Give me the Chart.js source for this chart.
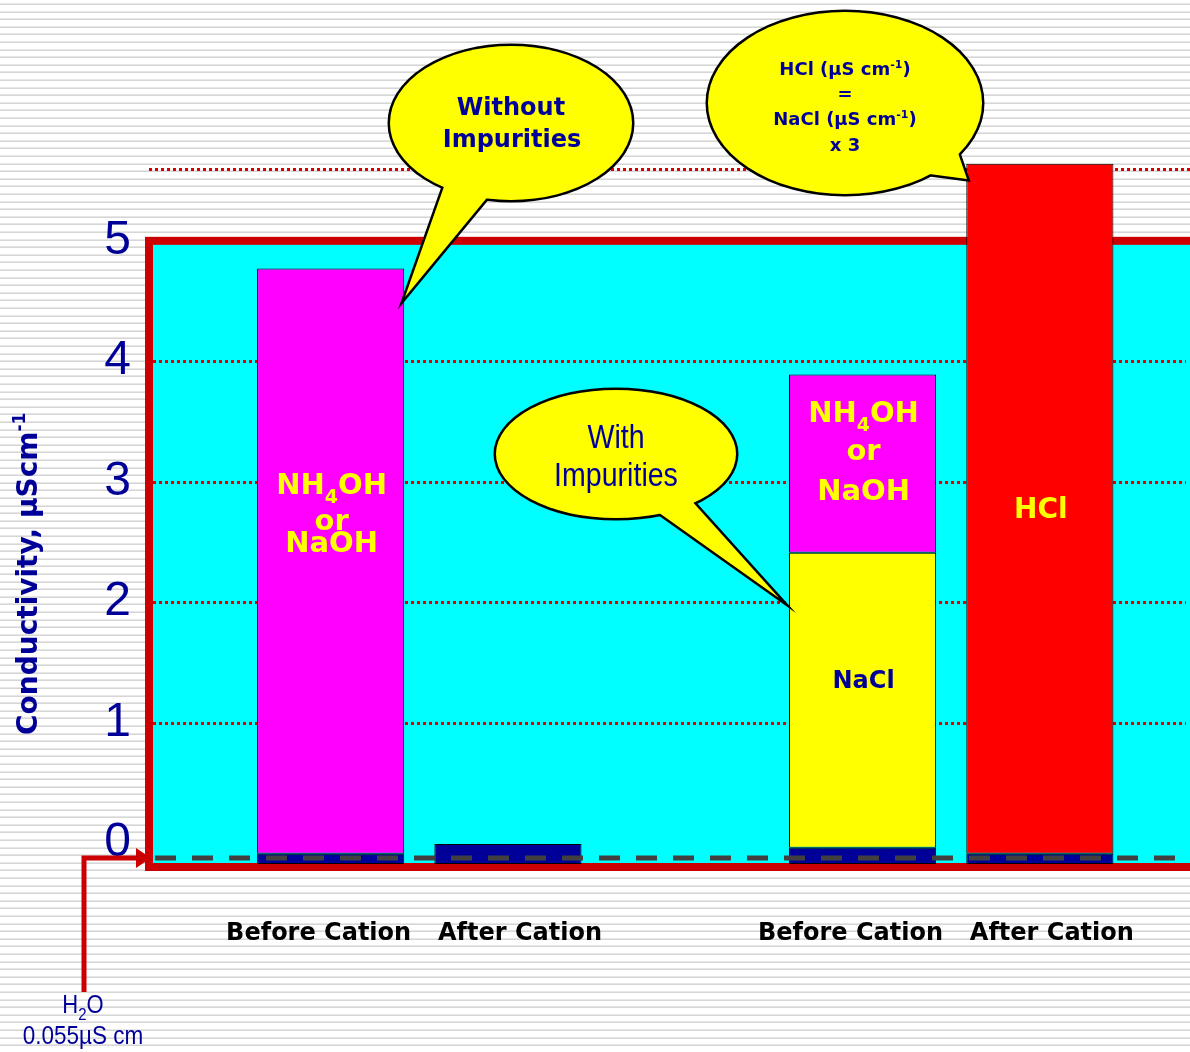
<!DOCTYPE html>
<html>
<head>
<meta charset="utf-8">
<script src="https://cdn.jsdelivr.net/npm/chart.js@4.4.0/dist/chart.umd.min.js"></script>
<style>
html,body{margin:0;padding:0;background:#fff;}
#wrap{width:1190px;height:1052px;position:relative;}
</style>
</head>
<body>
<div id="wrap"><canvas id="c" width="1190" height="1052"></canvas></div>
<script>
// ---- data ----
const categories = ["Before Cation", "After Cation", "", "Before Cation", "After Cation"];
const waterTop  = [-0.09, -0.01, null, -0.04, -0.09];   // dark blue base (water)
const naclTop   = [null, null, null, 2.41, null];        // NaCl
const alkaliTop = [4.77, null, null, 3.89, null];        // NH4OH or NaOH
const hclTop    = [null, null, null, null, 5.64];        // HCl
const barBottom = -0.175;
const tickValues = [0, 1, 2, 3, 4, 5];
const tickLabels = ["0", "1", "2", "3", "4", "5"];
const gridValues = [1, 2, 3, 4];
const refLine = 5.6;
const waterLevel = -0.125;
const yMin = -0.2, yMax = 7;

const NAVY = '#000099';
const BOLD = "'DejaVu Sans', sans-serif";
const ARIAL = "'Liberation Sans', Arial, sans-serif";

const navyData   = waterTop.map(v => v == null ? null : [barBottom, v]);
const naclData   = naclTop.map((v, i) => v == null ? null : [waterTop[i], v]);
const alkaliData = alkaliTop.map((v, i) => v == null ? null : [naclTop[i] != null ? naclTop[i] : waterTop[i], v]);
const hclData    = hclTop.map((v, i) => v == null ? null : [waterTop[i], v]);

function drawRuns(ctx, runs, x0, baseline, align, sx) {
  sx = sx || 1;
  let total = 0;
  runs.forEach(r => { ctx.font = r.font; r.w = ctx.measureText(r.t).width; total += r.w; });
  ctx.save();
  ctx.translate(x0, baseline);
  ctx.scale(sx, 1);
  let x = align === 'left' ? 0 : -total / 2;
  ctx.textAlign = 'left';
  ctx.textBaseline = 'alphabetic';
  runs.forEach(r => { ctx.font = r.font; ctx.fillText(r.t, x, (r.dy || 0)); x += r.w; });
  ctx.restore();
}

function callout(ctx, cx, cy, rx, ry, tail) {
  ctx.save();
  ctx.beginPath();
  ctx.ellipse(cx, cy, rx, ry, 0, 0, Math.PI * 2);
  ctx.moveTo(tail[0][0], tail[0][1]);
  ctx.lineTo(tail[1][0], tail[1][1]);
  ctx.lineTo(tail[2][0], tail[2][1]);
  ctx.closePath();
  ctx.lineWidth = 5;
  ctx.lineJoin = 'miter';
  ctx.strokeStyle = '#000';
  ctx.stroke();
  ctx.fillStyle = '#FFFF00';
  ctx.beginPath();
  ctx.ellipse(cx, cy, rx, ry, 0, 0, Math.PI * 2);
  ctx.fill();
  ctx.beginPath();
  ctx.moveTo(tail[0][0], tail[0][1]);
  ctx.lineTo(tail[1][0], tail[1][1]);
  ctx.lineTo(tail[2][0], tail[2][1]);
  ctx.closePath();
  ctx.fill();
  ctx.restore();
}

const decor = {
  id: 'decor',
  beforeDraw(chart) {
    const ctx = chart.ctx, W = chart.width, H = chart.height;
    const y = chart.scales.y, ca = chart.chartArea;
    ctx.save();
    // striped background
    ctx.fillStyle = '#ffffff';
    ctx.fillRect(0, 0, W, H);
    for (let i = 0; i * 7.6 < H; i++) {
      const yy = Math.round(i * 7.6 + 3);
      ctx.fillStyle = '#e6e6e6';
      ctx.fillRect(0, yy, W, 1);
      ctx.fillStyle = '#d6d6d6';
      ctx.fillRect(0, yy + 1, W, 1);
    }
    // plot box
    const bx = ca.left - 93;
    const top = y.getPixelForValue(5), bot = y.getPixelForValue(yMin);
    ctx.fillStyle = '#00FFFF';
    ctx.fillRect(bx, top, W + 10 - bx, bot - top);
    ctx.strokeStyle = '#CC0000';
    ctx.lineWidth = 8;
    ctx.strokeRect(bx, top, W + 10 - bx, bot - top);
    // dotted grid lines
    ctx.lineWidth = 3;
    ctx.setLineDash([3, 3]);
    ctx.strokeStyle = '#DD0000';
    gridValues.forEach(v => {
      const py = Math.round(y.getPixelForValue(v)) + 0.5;
      ctx.beginPath(); ctx.moveTo(bx + 4, py); ctx.lineTo(W - 4, py); ctx.stroke();
    });
    const ry = Math.round(y.getPixelForValue(refLine)) + 0.5;
    ctx.beginPath(); ctx.moveTo(bx, ry); ctx.lineTo(W, ry); ctx.stroke();
    ctx.restore();
  },
  afterDatasetsDraw(chart) {
    const ctx = chart.ctx, W = chart.width;
    const y = chart.scales.y, x = chart.scales.x, ca = chart.chartArea;
    const bx = ca.left - 93;
    ctx.save();
    // water level dashed line
    const wy = y.getPixelForValue(waterLevel);
    ctx.strokeStyle = '#404040';
    ctx.lineWidth = 5;
    ctx.setLineDash([21, 16]);
    ctx.beginPath(); ctx.moveTo(bx + 6, wy); ctx.lineTo(W, wy); ctx.stroke();
    ctx.setLineDash([]);

    // H2O arrow
    ctx.strokeStyle = '#CC0000';
    ctx.lineWidth = 5;
    ctx.lineCap = 'butt';
    ctx.beginPath();
    ctx.moveTo(84, 992); ctx.lineTo(84, wy); ctx.lineTo(139, wy);
    ctx.stroke();
    ctx.fillStyle = '#CC0000';
    ctx.beginPath();
    ctx.moveTo(136, wy - 10); ctx.lineTo(151, wy); ctx.lineTo(136, wy + 10); ctx.closePath();
    ctx.fill();

    ctx.fillStyle = NAVY;
    drawRuns(ctx, [{t: 'H', font: `25px ${ARIAL}`}, {t: '2', font: `17px ${ARIAL}`, dy: 7}, {t: 'O', font: `25px ${ARIAL}`}], 83, 1013, 'center', 0.88);
    drawRuns(ctx, [{t: '0.055µS cm', font: `25px ${ARIAL}`}], 83, 1044, 'center', 0.9);

    // bar labels
    const x1 = x.getPixelForValue(0) + 1, x3 = x.getPixelForValue(3) + 1, x4 = x.getPixelForValue(4);
    ctx.fillStyle = '#FFFF00';
    const big = `bold 29px ${BOLD}`, sub = `bold 19px ${BOLD}`;
    drawRuns(ctx, [{t: 'NH', font: big}, {t: '4', font: sub, dy: 9}, {t: 'OH', font: big}], x1, 494);
    drawRuns(ctx, [{t: 'or', font: big}], x1, 530);
    drawRuns(ctx, [{t: 'NaOH', font: big}], x1, 552);
    drawRuns(ctx, [{t: 'NH', font: big}, {t: '4', font: sub, dy: 9}, {t: 'OH', font: big}], x3, 422);
    drawRuns(ctx, [{t: 'or', font: big}], x3, 460);
    drawRuns(ctx, [{t: 'NaOH', font: big}], x3, 500);
    drawRuns(ctx, [{t: 'HCl', font: `bold 28px ${BOLD}`}], x4 + 1, 518);
    ctx.fillStyle = NAVY;
    drawRuns(ctx, [{t: 'NaCl', font: `bold 24px ${BOLD}`}], x3, 688);

    // callouts
    callout(ctx, 511, 123, 121, 77, [[446, 181], [405, 297], [490, 194]]);
    callout(ctx, 616, 454, 120, 64, [[655, 510], [779, 598], [690, 499]]);
    callout(ctx, 845, 103, 137, 91, [[922, 173], [967, 179], [957, 150]]);

    ctx.fillStyle = NAVY;
    drawRuns(ctx, [{t: 'Without', font: `bold 24px ${BOLD}`}], 511, 115);
    drawRuns(ctx, [{t: 'Impurities', font: `bold 24px ${BOLD}`}], 512, 147);
    drawRuns(ctx, [{t: 'With', font: `34px ${ARIAL}`}], 616, 448, 'center', 0.84);
    drawRuns(ctx, [{t: 'Impurities', font: `34px ${ARIAL}`}], 616, 486, 'center', 0.84);
    const cf = `bold 18px ${BOLD}`, cs = `bold 11px ${BOLD}`;
    drawRuns(ctx, [{t: 'HCl (µS cm', font: cf}, {t: '-1', font: cs, dy: -7}, {t: ')', font: cf}], 845, 75);
    drawRuns(ctx, [{t: '=', font: cf}], 845, 100);
    drawRuns(ctx, [{t: 'NaCl (µS cm', font: cf}, {t: '-1', font: cs, dy: -7}, {t: ')', font: cf}], 845, 125);
    drawRuns(ctx, [{t: 'x 3', font: cf}], 845, 151);

    // y axis title
    ctx.save();
    ctx.translate(37, 735);
    ctx.rotate(-Math.PI / 2);
    drawRuns(ctx, [{t: 'Conductivity, µScm', font: `bold 28px ${BOLD}`}, {t: '-1', font: `bold 17px ${BOLD}`, dy: -12}], 0, 0, 'left');
    ctx.restore();
    ctx.restore();
  }
};

const xTickFont = {family: BOLD, weight: 'bold', size: 24};

new Chart(document.getElementById('c'), {
  type: 'bar',
  data: {
    labels: categories,
    datasets: [
      {label: 'Water', data: navyData, backgroundColor: '#000099', xAxisID: 'x', yAxisID: 'y'},
      {label: 'NaCl', data: naclData, backgroundColor: '#FFFF00', xAxisID: 'x', yAxisID: 'y'},
      {label: 'NH4OH or NaOH', data: alkaliData, backgroundColor: '#FF00FF', xAxisID: 'x', yAxisID: 'y'},
      {label: 'HCl', data: hclData, backgroundColor: '#FF0000', xAxisID: 'x', yAxisID: 'y'}
    ]
  },
  options: {
    responsive: false,
    animation: false,
    devicePixelRatio: 1,
    layout: {padding: {left: 0, top: 0, bottom: 0, right: 61.5}},
    datasets: {bar: {categoryPercentage: 1, barPercentage: 0.83, borderWidth: 1, borderColor: '#000000', borderSkipped: false, clip: false}},
    plugins: {legend: {display: false}, tooltip: {enabled: false}, title: {display: false}},
    scales: {
      x: {
        type: 'category',
        stacked: true,
        offset: true,
        position: 'bottom',
        weight: 1,
        grid: {display: false, drawTicks: false},
        border: {display: false},
        ticks: {padding: 52, labelOffset: -12, color: '#000000', font: xTickFont, maxRotation: 0, autoSkip: false,
          callback: (v, i) => (i === 0 || i === 3) ? categories[i] : ''},
        afterFit(s) { s.height = 185; s.paddingLeft = 0; s.paddingRight = 0; }
      },
      x2: {
        type: 'category',
        offset: true,
        position: 'bottom',
        weight: 0,
        grid: {display: false, drawTicks: false},
        border: {display: false},
        ticks: {mirror: true, padding: -81, labelOffset: 12, color: '#000000', font: xTickFont, maxRotation: 0, autoSkip: false,
          callback: (v, i) => (i === 1 || i === 4) ? categories[i] : ''},
        afterFit(s) { s.height = 0; s.paddingLeft = 0; s.paddingRight = 0; }
      },
      y: {
        min: yMin, max: yMax,
        grid: {display: false, drawTicks: false},
        border: {display: false},
        afterBuildTicks(s) { s.ticks = tickValues.map(v => ({value: v})); },
        ticks: {
          padding: 111, color: NAVY,
          font: {family: ARIAL, size: 48},
          callback: (v) => tickLabels[tickValues.indexOf(v)]
        },
        afterFit(s) { s.width = 242; s.paddingTop = 0; s.paddingBottom = 0; }
      }
    }
  },
  plugins: [decor]
});
</script>
</body>
</html>
